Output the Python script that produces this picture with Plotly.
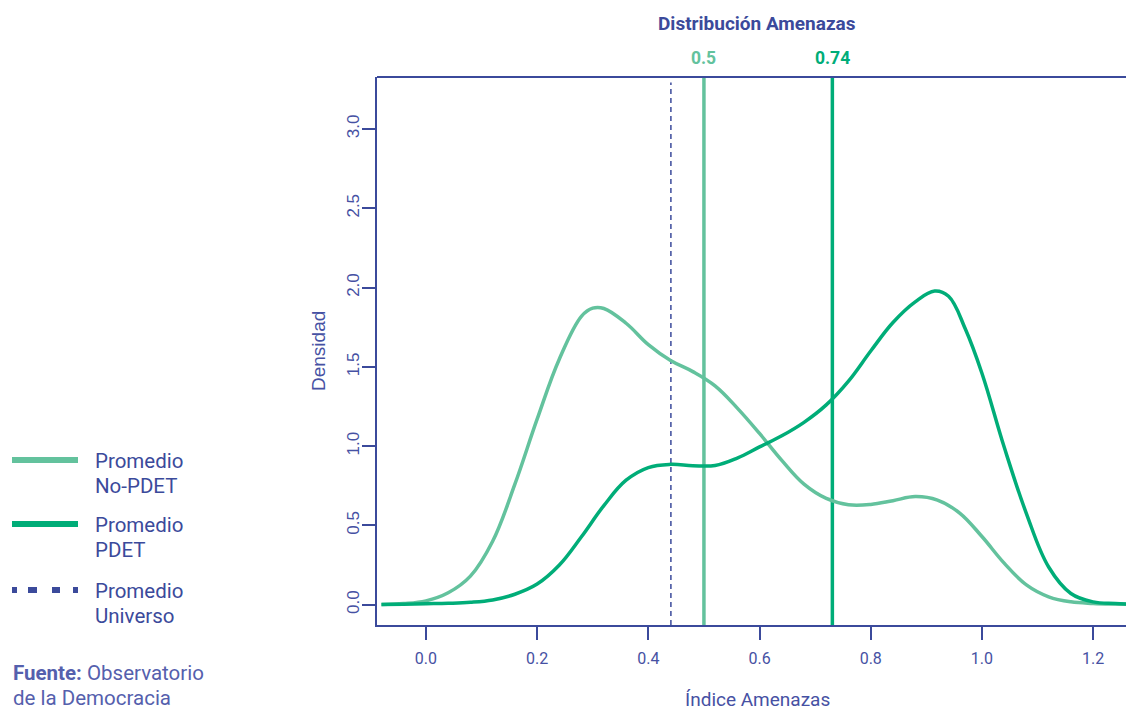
import plotly.graph_objects as go

# ---------------- data ----------------
x_nopdet = [-0.08, -0.04, 0.00, 0.04, 0.08, 0.12, 0.16, 0.20, 0.24, 0.28, 0.30, 0.32, 0.36, 0.40,
            0.44, 0.48, 0.52, 0.56, 0.60, 0.64, 0.68, 0.72, 0.76, 0.80, 0.84, 0.88, 0.92, 0.96,
            1.00, 1.04, 1.08, 1.12, 1.16, 1.20, 1.24, 1.28]
y_nopdet = [0.002, 0.007, 0.024, 0.075, 0.180, 0.400, 0.760, 1.170, 1.550, 1.820, 1.870, 1.868,
            1.775, 1.640, 1.540, 1.470, 1.380, 1.240, 1.080, 0.910, 0.760, 0.670, 0.630, 0.632,
            0.656, 0.682, 0.660, 0.578, 0.430, 0.262, 0.125, 0.050, 0.018, 0.008, 0.004, 0.002]

x_pdet = [-0.08, -0.04, 0.00, 0.04, 0.08, 0.12, 0.16, 0.20, 0.24, 0.28, 0.32, 0.36, 0.40, 0.44,
          0.48, 0.52, 0.56, 0.60, 0.64, 0.68, 0.72, 0.76, 0.80, 0.84, 0.88, 0.915, 0.94, 0.97,
          1.00, 1.04, 1.08, 1.12, 1.16, 1.20, 1.24, 1.28]
y_pdet = [0.001, 0.003, 0.006, 0.009, 0.015, 0.030, 0.066, 0.130, 0.250, 0.430, 0.625, 0.785,
          0.865, 0.885, 0.877, 0.878, 0.925, 0.995, 1.065, 1.150, 1.260, 1.410, 1.600, 1.780,
          1.910, 1.978, 1.945, 1.740, 1.460, 0.994, 0.575, 0.238, 0.071, 0.018, 0.008, 0.003]

mean_nopdet = 0.5
mean_pdet = 0.731
mean_universo = 0.4406
mean_labels = ["0.5", "0.74"]

x_ticks = [0.0, 0.2, 0.4, 0.6, 0.8, 1.0, 1.2]
y_ticks = [0.0, 0.5, 1.0, 1.5, 2.0, 2.5, 3.0]

legend_lines = [["Promedio", "No-PDET"], ["Promedio", "PDET"], ["Promedio", "Universo"]]
source_lines = ["<b>Fuente:</b> Observatorio", "de la Democracia"]

# ---------------- style ----------------
NAVY = "#3B4A9B"
NAVY_TXT = "#4651A3"
LIGHT = "#63C29D"
DARK = "#00AD78"

fig = go.Figure()
fig.add_trace(go.Scatter(x=x_nopdet, y=y_nopdet, mode="lines",
                         line=dict(color=LIGHT, width=3.5, shape="spline", smoothing=1.1),
                         showlegend=False, cliponaxis=True))
fig.add_trace(go.Scatter(x=x_pdet, y=y_pdet, mode="lines",
                         line=dict(color=DARK, width=3.5, shape="spline", smoothing=1.1),
                         showlegend=False, cliponaxis=True))

shapes = []
shapes.append(dict(type="line", xref="x", yref="paper", x0=mean_universo, x1=mean_universo,
                   y0=0, y1=0.99, line=dict(color=NAVY, width=1.5, dash="5px,4px"), layer="below"))
shapes.append(dict(type="line", xref="x", yref="paper", x0=mean_nopdet, x1=mean_nopdet,
                   y0=0, y1=1, line=dict(color=LIGHT, width=3.5), layer="below"))
shapes.append(dict(type="line", xref="x", yref="paper", x0=mean_pdet, x1=mean_pdet,
                   y0=0, y1=1, line=dict(color=DARK, width=3.5), layer="below"))
shapes.append(dict(type="line", xref="paper", yref="paper", x0=0, x1=1, y0=1, y1=1,
                   line=dict(color=NAVY, width=2)))

W, H = 1126, 711
ML, MR, MT, MB = 377, 0, 77, 86
pw = W - ML - MR
ph = H - MT - MB


def px_x(p):
    return (p - ML) / pw


def px_y(p):
    return (H - MB - p) / ph


leg_y = [460, 524, 590]
leg_colors = [LIGHT, DARK, NAVY]
leg_dash = ["solid", "solid", "5px,11px,9px,15px,8px,13px,5px,20px"]
for ly, c, d in zip(leg_y, leg_colors, leg_dash):
    shapes.append(dict(type="line", xref="paper", yref="paper", x0=px_x(12), x1=px_x(78),
                       y0=px_y(ly), y1=px_y(ly), line=dict(color=c, width=6, dash=d)))

annotations = []
for lines, ly in zip(legend_lines, leg_y):
    for i, t in enumerate(lines):
        annotations.append(dict(text=t, xref="paper", yref="paper", x=px_x(93),
                                y=px_y(ly + 1 + 25 * i), xanchor="left", yanchor="middle",
                                align="left", showarrow=False,
                                font=dict(family="Roboto", size=20.5, color=NAVY)))

for i, t in enumerate(source_lines):
    annotations.append(dict(text=t, xref="paper", yref="paper", x=px_x(11),
                            y=px_y(673 + 25 * i), xanchor="left", yanchor="middle",
                            align="left", showarrow=False,
                            font=dict(family="Roboto", size=20.5, color="#5560AD")))

annotations.append(dict(text="<b>Distribución Amenazas</b>", xref="paper", yref="paper",
                        x=px_x(757), y=px_y(23), xanchor="center", yanchor="middle",
                        showarrow=False, font=dict(family="Roboto", size=19, color=NAVY)))
for m, lab, c in zip([mean_nopdet, mean_pdet], mean_labels, [LIGHT, DARK]):
    annotations.append(dict(text="<b>" + lab + "</b>", xref="x", yref="paper", x=m,
                            y=px_y(58), xanchor="center", yanchor="middle", showarrow=False,
                            font=dict(family="Roboto", size=17.5, color=c)))

annotations.append(dict(text="Índice Amenazas", xref="paper", yref="paper", x=px_x(757),
                        y=px_y(699), xanchor="center", yanchor="middle", showarrow=False,
                        font=dict(family="Roboto", size=19, color=NAVY_TXT)))
annotations.append(dict(text="Densidad", xref="paper", yref="paper", x=px_x(318),
                        y=0.5, xanchor="center", yanchor="middle", showarrow=False, textangle=-90,
                        font=dict(family="Liberation Sans", size=19, color=NAVY_TXT)))

fig.update_layout(
    width=W, height=H,
    margin=dict(l=ML, r=MR, t=MT, b=MB),
    paper_bgcolor="white", plot_bgcolor="white",
    shapes=shapes, annotations=annotations,
    showlegend=False,
    xaxis=dict(range=[-0.088, -0.088 + pw / 556.0], tickvals=x_ticks,
               ticktext=[f"{v:.1f}" for v in x_ticks],
               showgrid=False, zeroline=False, showline=True, linecolor=NAVY, linewidth=2,
               ticks="outside", ticklen=13, tickwidth=2, tickcolor=NAVY,
               ticklabelstandoff=5,
               tickfont=dict(family="Roboto", size=16, color=NAVY_TXT)),
    yaxis=dict(range=[-0.128, 3.328], tickvals=y_ticks,
               ticktext=[f"{v:.1f}" for v in y_ticks],
               showgrid=False, zeroline=False, showline=True, linecolor=NAVY, linewidth=2,
               ticks="outside", ticklen=13, tickwidth=2, tickcolor=NAVY, tickangle=-90,
               ticklabelstandoff=-4,
               tickfont=dict(family="Liberation Sans", size=17, color=NAVY_TXT)),
)

fig.write_html("out.html", config={"displayModeBar": False},
               post_script="document.body.style.margin='0';document.body.style.overflow='hidden';")
